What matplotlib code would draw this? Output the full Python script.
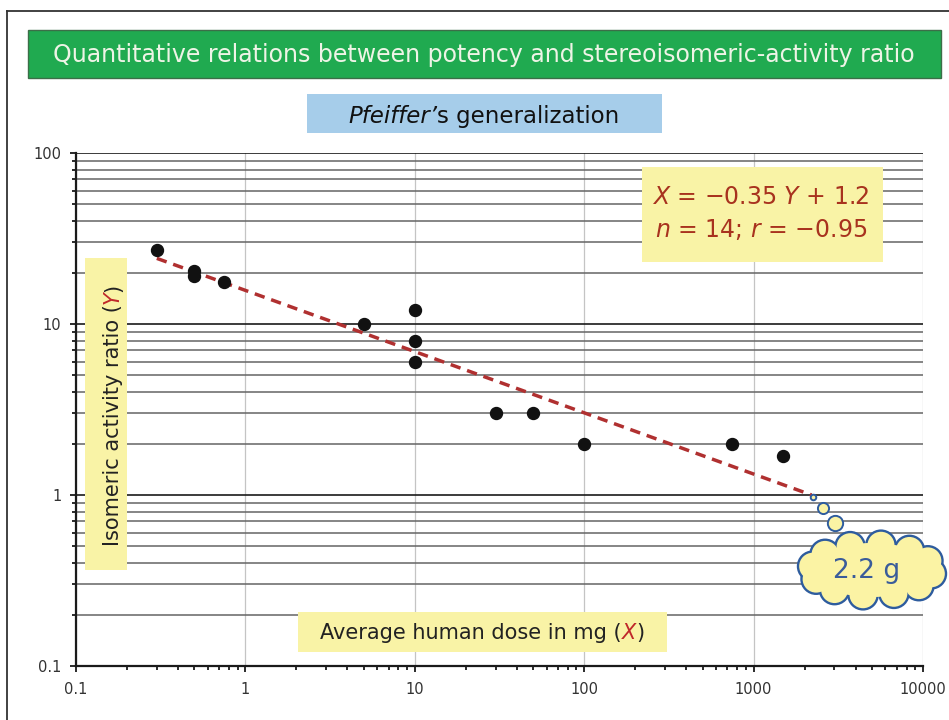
import matplotlib
matplotlib.use('Agg')
import numpy as np
import matplotlib.pyplot as plt
from matplotlib.patches import Rectangle, Circle, Ellipse
from matplotlib.ticker import FixedLocator, FixedFormatter, LogLocator, NullFormatter

# data
dose = [0.3, 0.5, 0.5, 0.75, 5, 10, 10, 10, 30, 50, 100, 750, 1500]
ratio = [27, 20.5, 19, 17.5, 10, 12, 8, 6, 3, 3, 2, 2, 1.7]

fit_dose = [0.3, 2200]
fit_ratio = [24.2, 1.0]

bubble_dose = [2240, 2580, 3025]
bubble_ratio = [0.98, 0.836, 0.683]
bubble_size = [4, 8, 11]

x_ticks = [0.1, 1, 10, 100, 1000, 10000]
x_labels = ['0.1', '1', '10', '100', '1000', '10000']
y_ticks = [0.1, 1, 10, 100]
y_labels = ['0.1', '1', '10', '100']

title = 'Quantitative relations between potency and stereoisomeric-activity ratio'

plt.rcParams['font.family'] = 'DejaVu Sans'
plt.rcParams['mathtext.fontset'] = 'dejavusans'

W, H = 949, 720
fig = plt.figure(figsize=(W / 100, H / 100), dpi=100)
fig.patch.set_facecolor('white')

# main log-log axes
L, R, T, B = 76, 923, 153, 666
ax = fig.add_axes([L / W, (H - B) / H, (R - L) / W, (B - T) / H])
ax.set_xscale('log')
ax.set_yscale('log')
ax.set_xlim(0.1, 10000)
ax.set_ylim(0.1, 100)

ax.xaxis.set_major_locator(FixedLocator(x_ticks))
ax.xaxis.set_major_formatter(FixedFormatter(x_labels))
ax.yaxis.set_major_locator(FixedLocator(y_ticks))
ax.yaxis.set_major_formatter(FixedFormatter(y_labels))
ax.xaxis.set_minor_locator(LogLocator(base=10, subs=range(2, 10)))
ax.yaxis.set_minor_locator(LogLocator(base=10, subs=range(2, 10)))
ax.xaxis.set_minor_formatter(NullFormatter())
ax.yaxis.set_minor_formatter(NullFormatter())

ax.yaxis.grid(True, which='minor', color='#656565', lw=1.1)
ax.yaxis.grid(True, which='major', color='#1a1a1a', lw=1.2)
ax.xaxis.grid(True, which='major', color='#c4c4c4', lw=0.9)
ax.set_axisbelow(True)

for s in ['top', 'right']:
    ax.spines[s].set_visible(False)
for s in ['left', 'bottom']:
    ax.spines[s].set_color('#1a1a1a')
    ax.spines[s].set_linewidth(1.6)

ax.tick_params(axis='both', which='major', direction='out', length=4.5, width=1.3,
               color='#1a1a1a', labelsize=10.5, labelcolor='#333333')
ax.tick_params(axis='both', which='minor', direction='out', length=3, width=1.3, color='#1a1a1a')
ax.tick_params(axis='x', which='major', pad=7)
ax.tick_params(axis='y', which='major', pad=6)

ax.plot(fit_dose, fit_ratio, color='#b03030', lw=2.5, linestyle=(0, (3, 2)), zorder=3)
ax.plot(dose, ratio, 'o', color='#111111', markersize=8.6, zorder=4)
for d, r, s in zip(bubble_dose, bubble_ratio, bubble_size):
    ax.plot(d, r, 'o', markersize=s, markerfacecolor='#fbf3a4', markeredgecolor='#2e5c9e',
            markeredgewidth=1.4, zorder=5, clip_on=False)

# overlay in pixel coordinates for boxes and labels
ov = fig.add_axes([0, 0, 1, 1], zorder=5)
ov.set_xlim(0, W)
ov.set_ylim(H, 0)
ov.axis('off')

ov.plot([7, W], [11, 11], color='#333333', lw=1.3)
ov.plot([7, 7], [11, H], color='#333333', lw=1.3)

ov.add_patch(Rectangle((28, 30), 913, 48, facecolor='#20aa50', edgecolor='#3c6e48', lw=1))
ov.text(484, 62, title, fontsize=17, color='#eef4e6', ha='center', va='baseline')

ov.add_patch(Rectangle((307, 94), 355, 39, facecolor='#a6cdea', edgecolor='none'))

ov.add_patch(Rectangle((642, 167), 241, 95, facecolor='#f9f3a6', edgecolor='none'))
ov.text(761, 204, r'$X$ = −0.35 $Y$ + 1.2', fontsize=17, color='#a8321e', ha='center', va='baseline')
ov.text(761, 237, r'$n$ = 14; $r$ = −0.95', fontsize=17, color='#a8321e', ha='center', va='baseline')

ov.add_patch(Rectangle((85, 258), 42, 312, facecolor='#f9f3a6', edgecolor='none'))
ov.add_patch(Rectangle((298, 612), 369, 40, facecolor='#f9f3a6', edgecolor='none'))

renderer = fig.canvas.get_renderer()


def put_pieces(x, y, pieces, size, vertical=False):
    objs = []
    for s, col, sty in pieces:
        t = ov.text(0, 0, s, fontsize=size, color=col, style=sty, ha='left', va='baseline',
                    rotation=90 if vertical else 0, rotation_mode='anchor')
        objs.append(t)
    ext = [t.get_window_extent(renderer) for t in objs]
    if vertical:
        cur = y + sum(e.height for e in ext) / 2
        for t, e in zip(objs, ext):
            t.set_position((x, cur))
            cur -= e.height
    else:
        cur = x - sum(e.width for e in ext) / 2
        for t, e in zip(objs, ext):
            t.set_position((cur, y))
            cur += e.width


put_pieces(484, 123, [('Pfeiffer’', '#111111', 'italic'),
                      ('s generalization', '#111111', 'normal')], 16.5)
put_pieces(482, 639, [('Average human dose in mg (', '#222222', 'normal'),
                      ('X', '#c0282a', 'italic'),
                      (')', '#222222', 'normal')], 15)
put_pieces(119, 415, [('Isomeric activity ratio (', '#222222', 'normal'),
                      ('Y', '#c0282a', 'italic'),
                      (')', '#222222', 'normal')], 15, vertical=True)

# cloud callout: outlined lobes, then fills on top to hide inner edges
cx, cy = 872, 570
ang = np.linspace(0, 2 * np.pi, 12, endpoint=False) + 0.15
lobes = [(cx + 60 * np.cos(a), cy + 25 * np.sin(a)) for a in ang]
for px, py in lobes:
    ov.add_patch(Circle((px, py), 13.5, facecolor='#fbf3a4', edgecolor='#2e5c9e', lw=3.4, zorder=1))
for px, py in lobes:
    ov.add_patch(Circle((px, py), 13.5, facecolor='#fbf3a4', edgecolor='none', zorder=2))
ov.add_patch(Ellipse((cx, cy), 124, 54, facecolor='#fbf3a4', edgecolor='none', zorder=2))
ov.text(867, 578, '2.2 g', fontsize=19, color='#3a5c9a', ha='center', va='baseline', zorder=3)

fig.savefig('out.png', dpi=100)
